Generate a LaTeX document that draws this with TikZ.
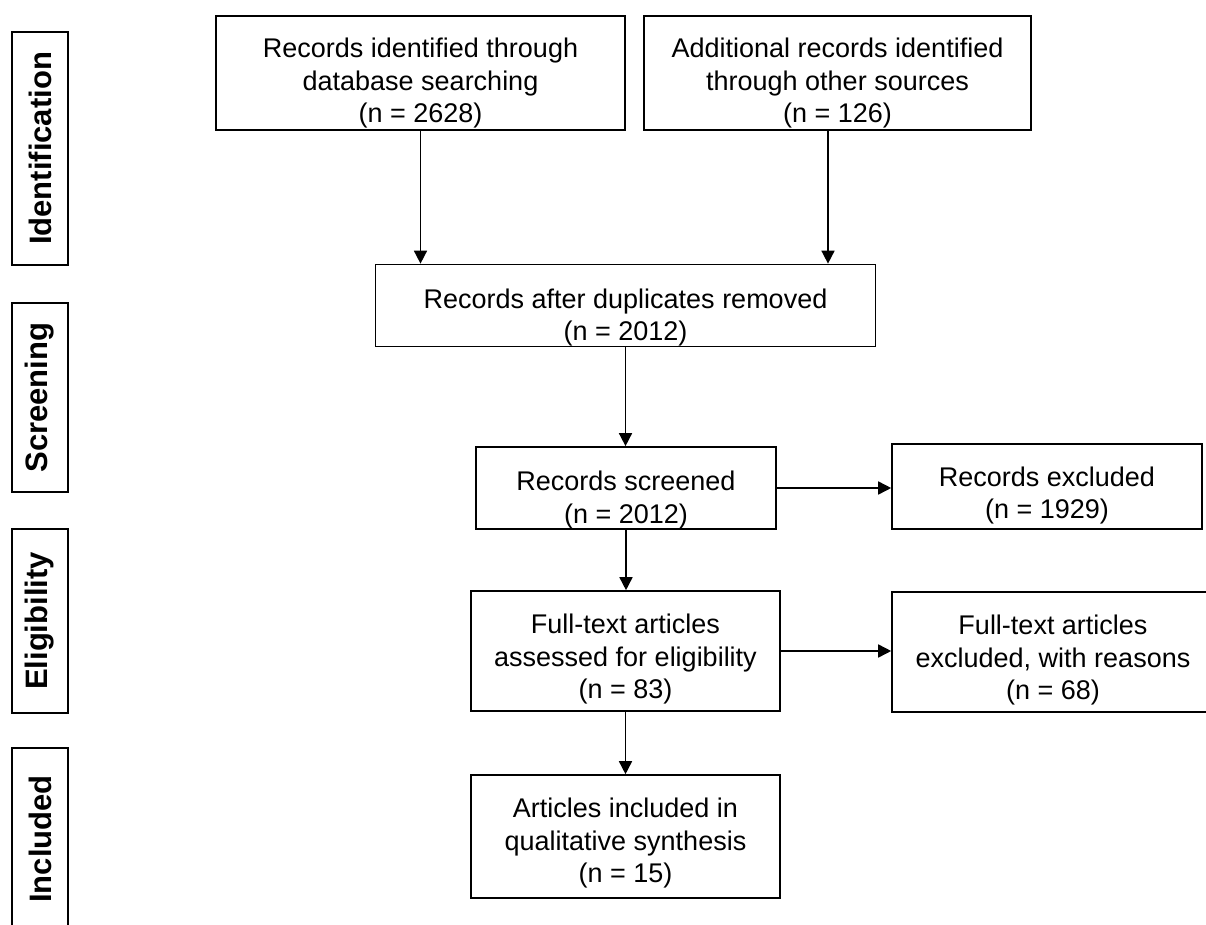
\documentclass[tikz,border=0pt]{standalone}
\usepackage{fontspec}
\setmainfont{Liberation Sans}
\usetikzlibrary{arrows.meta}
\newcommand{\dn}[1]{\rule{0pt}{#1}}
\begin{document}
\begin{tikzpicture}[x=1pt,y=-1pt,
  box/.style={draw=black, line width=1.6pt, align=center, inner sep=0pt,
    font=\fontsize{27pt}{32.5pt}\selectfont},
  side/.style={draw=black, line width=1.6pt, rotate=90, inner sep=0pt,
    minimum height=56pt, font=\fontsize{31pt}{36pt}\selectfont\bfseries},
  arr/.style={line width=1.6pt, -{Triangle[length=13pt,width=13pt]}}]
\useasboundingbox (0,0) rectangle (1206,925);
% side labels
\node[side, minimum width=233pt] (sid) at (40,148.5) {Identification};
\node[side, minimum width=189pt] (ssc) at (40,397.5) {Screening};
\node[side, minimum width=184pt] (sel) at (40,621) {Eligibility};
\node[side, minimum width=182pt] (sin) at (40,839) {Included};
% main boxes
\node[box, minimum width=409pt, minimum height=114pt] (b1) at (420.5,73)
  {\dn{40pt}Records identified through\\database searching\\(n = 2628)};
\node[box, minimum width=387pt, minimum height=114pt] (b2) at (837.5,73)
  {\dn{40pt}Additional records identified\\through other sources\\(n = 126)};
\node[box, minimum width=500pt, minimum height=81pt] (dup) at (625.5,305.5)
  {\dn{44pt}Records after duplicates removed\\(n = 2012)};
\node[box, minimum width=300pt, minimum height=82pt] (scr) at (626,488)
  {\dn{44pt}Records screened\\(n = 2012)};
\node[box, minimum width=310pt, minimum height=85pt] (exc) at (1047,486.5)
  {\dn{38pt}Records excluded\\(n = 1929)};
\node[box, minimum width=309pt, minimum height=120pt] (ft) at (625.5,651)
  {\dn{36pt}Full-text articles\\assessed for eligibility\\(n = 83)};
\node[box, minimum width=322pt, minimum height=120pt] (fte) at (1053,652)
  {\dn{36pt}Full-text articles\\excluded, with reasons\\(n = 68)};
\node[box, minimum width=309pt, minimum height=123pt] (inc) at (625.5,836.5)
  {\dn{33pt}Articles included in\\qualitative synthesis\\(n = 15)};
% connectors
\draw[arr] (b1.south) -- (b1.south |- dup.north);
\draw[arr] ([xshift=-9.5pt]b2.south) -- ([xshift=-9.5pt]b2.south |- dup.north);
\draw[arr] (dup.south) -- (dup.south |- scr.north);
\draw[arr] (scr.east) -- (scr.east -| exc.west);
\draw[arr] (scr.south) -- (scr.south |- ft.north);
\draw[arr] (ft.east) -- (ft.east -| fte.west);
\draw[arr] (ft.south) -- (ft.south |- inc.north);
\end{tikzpicture}
\end{document}
